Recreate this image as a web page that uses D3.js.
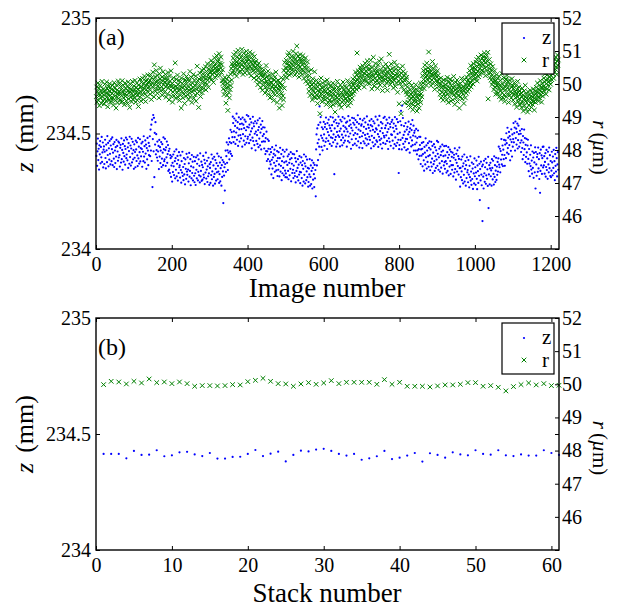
<!DOCTYPE html>
<html>
<head>
<meta charset="utf-8">
<script src="https://cdn.jsdelivr.net/npm/d3@7"></script>
<style>
  body { margin: 0; background: #fff; }
  svg text { font-family: "Liberation Serif", "Times New Roman", serif; fill: #000; }
</style>
</head>
<body>
<svg id="chart" width="624" height="608"></svg>
<script>
// z per image, stored as (z - 234 mm) * 1000
const zImage = [
403,456,360,423,478,385,434,344,449,410,467,371,442,397,485,377,418,461,353,430,
444,368,421,473,394,349,452,427,376,489,407,459,358,436,387,468,412,366,448,476,
380,432,483,363,417,454,391,355,463,426,372,441,400,472,346,446,422,382,465,396,
460,406,357,438,451,374,479,389,429,343,455,416,378,470,402,445,365,433,482,393,
409,474,384,440,351,458,424,369,486,398,448,361,435,477,375,413,464,388,428,347,
453,395,420,354,469,431,381,462,405,359,481,392,443,370,419,475,379,437,401,457,
433,356,464,421,380,488,400,445,374,470,413,452,347,437,388,481,426,363,459,406,
445,488,402,517,426,538,381,560,268,476,580,423,568,311,503,452,549,410,497,428,
396,465,382,422,446,346,472,400,441,372,426,463,355,391,454,417,363,483,432,380,
388,477,428,360,440,397,465,373,411,450,338,424,344,434,329,406,393,312,361,400,
292,373,333,409,358,320,422,380,306,393,343,431,314,369,403,296,385,329,419,354,
362,309,405,342,287,380,331,421,316,355,298,394,323,368,280,388,347,304,412,335,
321,397,344,292,371,416,313,338,389,276,358,306,407,329,378,297,353,399,317,289,
380,328,277,397,343,306,369,405,297,334,388,319,360,288,414,314,338,378,295,364,
300,354,403,322,309,386,281,371,331,417,305,344,382,290,358,315,395,327,278,367,
351,286,376,320,409,302,336,391,274,362,312,399,325,283,385,347,296,372,332,413,
302,360,335,401,286,324,374,293,350,396,274,363,312,385,336,199,376,318,354,253,
368,426,334,402,462,373,427,342,452,417,479,388,463,423,516,412,458,506,403,484,
573,545,463,509,565,484,533,455,556,504,586,473,524,549,446,491,570,518,465,541,
493,562,479,519,543,443,569,497,538,469,523,560,452,488,551,514,460,580,529,477,
486,575,526,458,538,495,563,471,509,548,436,522,482,572,467,544,531,450,499,553,
427,508,468,544,493,455,557,515,441,528,478,566,449,504,538,431,520,464,554,489,
527,466,497,435,526,465,411,480,424,508,381,423,475,389,434,468,348,409,379,433,
366,419,323,386,441,348,397,307,412,373,430,334,405,360,448,340,381,424,316,393,
343,419,366,314,393,438,335,360,411,298,380,328,429,351,400,319,375,421,339,311,
327,379,430,310,364,401,338,302,410,373,319,388,347,419,293,393,369,329,412,343,
307,361,410,329,316,393,288,378,338,424,312,351,389,297,365,322,402,334,285,374,
332,397,307,363,274,381,347,292,409,321,371,284,358,400,298,336,387,311,351,270,
290,348,323,389,274,312,362,281,338,384,262,351,300,373,324,268,364,306,342,228,
431,496,362,522,458,385,537,474,443,617,409,548,571,491,442,527,480,427,519,469,
550,496,447,528,541,464,569,479,519,433,545,506,468,560,492,535,455,523,572,483,
511,446,536,480,569,462,496,551,324,522,472,559,485,443,545,507,456,532,492,573,
543,485,510,444,559,521,471,552,495,449,571,482,533,460,509,565,469,527,491,547,
520,443,551,508,467,575,487,532,461,557,500,539,434,524,475,568,513,450,546,493,
566,538,456,502,558,477,526,448,549,497,579,466,517,542,439,484,563,511,458,534,
540,488,437,557,503,466,529,565,457,494,548,479,520,448,574,474,498,538,455,524,
486,555,472,512,536,436,562,490,531,462,516,553,445,481,544,507,453,573,522,470,
517,464,560,497,442,535,486,576,471,510,453,549,478,523,435,543,502,459,567,490,
483,572,523,455,535,492,560,468,506,545,433,519,479,569,464,541,528,447,496,550,
494,559,469,525,436,543,509,454,571,483,533,446,520,562,460,498,549,473,329,432,
450,504,553,472,598,536,431,621,481,567,455,494,532,440,508,465,545,477,428,517,
476,529,433,496,551,458,507,417,522,483,540,444,515,470,558,450,491,534,426,503,
512,453,487,426,520,461,410,480,427,513,388,432,486,403,450,485,368,431,404,459,
434,358,411,463,384,339,442,417,366,479,397,449,348,426,377,458,402,356,438,466,
406,341,431,375,464,357,391,446,329,417,367,454,380,338,440,402,351,427,387,468,
360,412,463,343,397,434,371,335,443,406,352,421,380,452,326,426,402,362,445,376,
347,405,380,446,331,369,419,338,395,441,319,408,357,430,381,325,421,363,399,343,
417,363,314,395,408,331,436,346,386,300,412,373,335,427,359,402,322,390,439,350,
270,351,311,387,336,298,400,358,284,371,321,409,292,347,381,274,363,307,397,332,
342,289,385,322,267,360,311,401,296,335,278,374,303,348,260,368,327,284,392,315,
354,278,331,383,304,259,362,337,286,399,317,369,212,346,297,378,322,276,358,121,
365,313,262,382,328,291,354,390,282,319,373,304,345,273,399,177,323,363,280,349,
373,315,340,274,389,351,301,382,325,279,401,312,363,290,339,395,299,357,321,377,
335,392,443,365,354,434,332,424,387,476,366,408,448,359,430,389,472,407,360,452,
470,393,501,458,417,525,437,482,411,507,450,489,384,474,425,518,463,400,496,443,
476,545,462,502,526,426,552,480,521,452,506,543,435,471,534,497,443,563,512,460,
499,420,470,519,437,389,489,461,407,517,432,480,376,451,399,477,418,369,448,473,
390,337,433,370,315,408,359,449,344,383,326,422,351,396,308,416,375,332,440,262,
420,366,317,398,411,334,439,349,389,303,415,243,338,430,362,405,325,393,442,353,
443,362,402,326,377,415,313,355,429,342,392,304,421,366,332,439,350,406,316,381,
311,339,421,375,319,400,351,429,328,380,298,411,360,335,438,393,314,366,419,343
];

// r per image, stored as (r - 40 µm) * 100
const rImage = [
962,991,945,978,1003,951,970,987,934,966,995,958,980,942,973,1008,961,949,984,967,
939,976,999,955,982,948,971,1006,960,987,931,969,993,952,978,1001,944,965,990,957,
983,947,972,996,958,936,979,1004,963,988,950,974,927,997,961,982,943,970,1009,956,
978,1001,952,969,992,944,983,965,1010,947,974,996,958,981,937,970,1003,962,986,949,
967,993,941,979,1006,955,972,988,929,976,999,960,984,946,971,1008,953,980,964,994,
958,982,1011,969,945,990,975,1002,951,984,966,932,997,973,960,1015,978,990,948,1005,
992,968,1017,981,953,1003,986,1024,970,995,947,1009,983,1012,962,998,1027,975,991,1006,
984,1011,969,1028,996,953,1019,1002,975,1036,990,1013,961,1058,999,1022,978,1007,1041,985,
1010,972,1026,994,1003,958,1031,987,1015,1048,979,1004,992,1021,966,1009,1037,983,998,1017,
975,1006,1029,991,960,1018,997,1012,970,1035,988,1002,952,1024,995,1009,981,1040,963,993,
1001,945,976,1019,990,964,1008,982,1064,957,993,1014,972,987,1027,961,998,979,1011,950,
984,1007,966,992,927,1018,977,1002,958,989,1031,969,995,941,1012,980,1005,963,1023,986,
968,994,1016,952,982,1009,973,1038,961,997,985,1020,944,976,1003,990,1029,957,981,1012,
995,967,1024,948,1001,983,1054,971,1010,989,929,1015,977,1033,996,962,1019,987,1042,974,
1008,1031,986,1019,1045,997,1026,1004,1052,982,1015,1038,999,1061,1011,1027,990,1046,1017,1035,
1022,1058,1036,1071,1013,1047,1029,1065,1041,1005,1054,1033,1079,1048,1019,1062,1040,1086,1027,1051,
1068,1039,1075,1044,1092,1057,1026,1063,1048,1081,1035,1059,1010,1043,1001,985,1012,968,996,1020,
978,1006,942,989,1015,966,1002,920,991,1023,974,958,1008,983,1030,995,1047,1012,1061,1034,
1053,1078,1040,1089,1062,1031,1071,1049,1096,1058,1024,1067,1083,1045,1102,1060,1036,1075,1052,1090,
1064,1038,1081,1057,1105,1044,1072,1029,1066,1093,1051,1078,1034,1061,1087,1047,1099,1069,1041,1076,
1048,1085,1059,1032,1074,1096,1053,1067,1025,1080,1046,1062,1091,1039,1071,1055,1018,1083,1050,1064,
1037,1069,1012,1048,1025,1056,998,1041,1019,1063,1006,1033,1052,990,1027,1044,1009,1035,981,1021,
1028,996,1043,1005,1017,973,1031,990,1056,1008,982,1022,1001,1039,969,1013,995,1027,958,1004,
983,1017,962,1004,991,1030,975,998,950,1012,986,1021,967,993,1036,979,1008,944,1000,985,
1011,968,994,927,982,1003,955,989,1019,971,935,998,964,1014,952,1041,987,1065,1023,1049,
1034,1072,1048,1019,1063,1087,1040,1056,1095,1028,1067,1045,1078,1052,1031,1084,1061,1043,1070,1099,
1055,1038,1081,1064,1027,1073,1049,1092,1060,1115,1036,1069,1085,1046,1058,1021,1077,1052,1089,1034,
1066,1043,1075,1029,1058,1086,1041,1063,1017,1072,1050,1035,1079,1008,1056,1024,1047,1067,1001,1038,
1012,978,1025,993,965,1006,984,1043,970,997,952,1016,981,1004,961,990,1037,973,999,958,
986,1011,967,993,941,980,1004,959,975,998,910,983,962,1018,971,989,946,1003,977,955,
991,964,982,1008,953,977,996,938,971,1012,958,985,944,969,1001,950,978,993,932,966,
975,948,992,961,1003,937,969,985,952,978,915,996,964,941,983,957,1008,970,946,989,
954,981,937,968,997,959,929,974,990,945,966,1006,951,983,962,938,977,994,956,971,
988,949,973,1010,961,934,982,966,999,952,976,943,990,968,1004,957,983,1015,971,995,
1002,978,1021,989,1036,1009,984,1028,1094,1011,997,1040,1019,988,1033,1006,1051,1024,999,1042,
1018,1037,1004,1055,1026,1012,1047,991,1031,1063,1015,1039,1008,1052,1027,1070,1003,1044,1021,1058,
1030,1001,1045,1019,1072,1008,1036,985,1027,1051,1013,1081,1024,994,1040,1017,1062,1005,1033,1048,
1011,1039,987,1025,1058,1004,1031,1069,1016,997,1043,1022,1076,1009,1035,980,1020,1053,1012,1038,
1026,995,1047,1014,1060,1029,1003,1037,981,1019,1051,1008,1032,1090,1015,1042,998,1024,1061,1010,
1034,1006,1048,1021,988,1039,1012,1066,1027,993,1045,1017,1003,1056,1030,975,1023,1041,1009,940,
1028,1002,1047,1015,910,1033,992,1019,1054,1006,1038,981,1025,1011,943,1032,997,1013,976,1020,
968,991,945,977,935,962,1004,951,983,929,970,958,996,940,973,922,961,987,948,979,
955,933,972,998,946,964,918,981,957,939,990,966,927,975,952,1003,944,970,985,961,
992,1025,1003,1041,1014,986,1032,1057,1009,1045,1021,997,1063,1028,1038,1011,1049,1097,1019,1035,
1006,1042,1024,995,1053,1031,1012,1068,1027,1001,1046,1019,1037,984,1029,1055,1010,1033,998,1021,
1040,1008,1026,993,1015,982,1003,969,997,1018,958,989,1007,975,994,951,984,1012,970,991,
963,998,977,1011,952,985,1020,969,993,944,980,1006,961,987,1015,973,948,996,982,1009,
975,952,989,1023,967,994,938,981,1005,959,986,970,1012,947,978,999,964,990,927,983,
1001,962,988,974,1017,955,983,1008,969,993,941,979,1014,986,958,997,972,1021,989,1006,
978,1012,995,1029,984,1041,1003,1019,1056,991,1033,1011,1047,1025,1000,1062,1037,1014,1050,1028,
1045,1018,1066,1032,1074,1009,1053,1039,1081,1022,1060,1046,1029,1071,1055,1088,1034,1063,1042,1077,
1058,1083,1036,1070,1094,1048,1065,1025,1079,1052,1087,1041,1068,1096,955,1057,1031,1074,1046,1019,
1035,1061,1012,1043,998,1027,1053,1006,1022,983,1014,1040,991,1008,969,1002,1028,977,995,1017,
971,1004,988,1023,962,996,979,1011,953,990,1032,974,1000,958,985,1019,967,993,947,1008,
982,1015,961,997,1026,970,989,1006,944,983,1012,966,1001,975,1037,958,990,1016,973,995,
951,986,969,1004,940,977,959,995,972,930,983,962,1008,946,974,991,955,980,937,968,
942,973,928,960,987,945,966,918,954,979,934,961,996,948,925,970,943,958,915,977,
952,936,968,923,957,981,941,963,929,950,974,938,960,985,947,966,921,956,978,944,
969,990,954,977,1003,961,984,948,972,996,958,981,1010,966,989,945,976,1001,963,987,
993,1018,979,1006,1031,988,1012,969,1001,1027,985,1015,996,1040,1007,982,1023,1011,1046,999,
1026,1052,1013,1039,1065,1030,1048,1017,1058,1075,1036,1062,1044,1081,1051,1029,1070,1088,1057,1073
];

// z per stack (mm), stacks 1..61
const zStack = [
234.414,234.414,234.414,234.395,234.427,234.410,234.411,234.430,234.404,234.408,
234.421,234.423,234.412,234.405,234.418,234.394,234.394,234.401,234.402,234.414,
234.431,234.405,234.415,234.424,234.382,234.410,234.428,234.425,234.433,234.436,
234.427,234.414,234.407,234.414,234.389,234.395,234.404,234.427,234.392,234.398,
234.407,234.418,234.381,234.417,234.410,234.398,234.421,234.412,234.408,234.430,
234.414,234.411,234.430,234.408,234.405,234.412,234.407,234.407,234.430,234.418,
234.410
];

// r per stack (µm)
const rStack = [
49.99,50.09,50.07,50.01,50.09,50.04,50.16,50.05,50.07,50.02,
50.07,50.02,49.94,49.96,49.96,49.95,49.96,49.99,49.98,50.08,
50.12,50.18,50.09,50.02,50.01,49.94,50.01,50.05,50.00,50.04,
50.11,50.02,50.06,50.06,50.06,50.06,50.00,50.14,50.00,50.06,
49.94,49.94,49.94,49.92,49.95,49.98,49.98,50.00,50.05,50.05,
49.94,49.96,49.91,49.80,49.93,49.99,50.04,49.98,50.02,49.96,
49.97
];

const imageTicks = [0, 200, 400, 600, 800, 1000, 1200];
const stackTicks = [0, 10, 20, 30, 40, 50, 60];
const zTicks = [234, 234.5, 235];
const rTicks = [46, 47, 48, 49, 50, 51, 52];

const svg = d3.select('#chart');
const left = 96, right = 559;
const blue = '#0000ff', green = '#008000';
const intFmt = d3.format('d');

const panels = [
  { top: 18, bottom: 249, xMax: 1222, xTicks: imageTicks, tag: '(a)', tagY: 45, xLabel: 'Image number', xLabelY: 297,
    z: zImage.map(v => 234 + v / 1000), r: rImage.map(v => 40 + v / 100) },
  { top: 318, bottom: 550, xMax: 61, xTicks: stackTicks, tag: '(b)', tagY: 355, xLabel: 'Stack number', xLabelY: 602,
    z: zStack, r: rStack }
];

function drawPanel(p) {
  const g = svg.append('g');
  const x  = d3.scaleLinear().domain([0, p.xMax]).range([left, right]);
  const yz = d3.scaleLinear().domain([234, 235]).range([p.bottom, p.top]);
  const yr = d3.scaleLinear().domain([45, 52]).range([p.bottom, p.top]);

  // z dots
  g.append('g').selectAll('circle')
    .data(p.z)
    .join('circle')
    .attr('cx', (d, i) => x(i + 1))
    .attr('cy', d => yz(d))
    .attr('r', 1.1)
    .attr('fill', blue);

  // r crosses
  const s = 2.3;
  g.append('path')
    .attr('d', p.r.map((d, i) => {
      const cx = x(i + 1), cy = yr(d);
      return `M${cx - s},${cy - s}L${cx + s},${cy + s}M${cx - s},${cy + s}L${cx + s},${cy - s}`;
    }).join(''))
    .attr('fill', 'none')
    .attr('stroke', green)
    .attr('stroke-width', 1);

  // axes, ticks pointing inwards
  const tk = -4;
  const bottomAx = g.append('g').attr('transform', `translate(0,${p.bottom})`)
    .call(d3.axisBottom(x).tickValues(p.xTicks).tickSizeInner(tk).tickSizeOuter(0).tickPadding(8).tickFormat(intFmt));
  const topAx = g.append('g').attr('transform', `translate(0,${p.top})`)
    .call(d3.axisTop(x).tickValues(p.xTicks).tickSizeInner(tk).tickSizeOuter(0).tickFormat(''));
  const leftAx = g.append('g').attr('transform', `translate(${left},0)`)
    .call(d3.axisLeft(yz).tickValues(zTicks).tickSizeInner(tk).tickSizeOuter(0).tickPadding(5).tickFormat(d => d));
  const leftOnRight = g.append('g').attr('transform', `translate(${right},0)`)
    .call(d3.axisRight(yz).tickValues(zTicks).tickSizeInner(tk).tickSizeOuter(0).tickFormat(''));
  const rightAx = g.append('g').attr('transform', `translate(${right},0)`)
    .call(d3.axisRight(yr).tickValues(rTicks).tickSizeInner(tk).tickSizeOuter(0).tickPadding(3).tickFormat(intFmt));

  [bottomAx, topAx, leftAx, leftOnRight, rightAx].forEach(a => {
    a.select('.domain').remove();
    a.selectAll('.tick line').attr('stroke', '#000').attr('stroke-width', 1);
    a.selectAll('.tick text').attr('font-size', 20).attr('font-family', '"Liberation Serif", serif').attr('fill', '#000');
  });

  // frame
  g.append('rect')
    .attr('x', left).attr('y', p.top)
    .attr('width', right - left).attr('height', p.bottom - p.top)
    .attr('fill', 'none').attr('stroke', '#000').attr('stroke-width', 1.4);

  // panel tag
  g.append('text').attr('x', 98).attr('y', p.tagY).attr('font-size', 24).text(p.tag);

  // x label
  g.append('text').attr('x', 327).attr('y', p.xLabelY)
    .attr('text-anchor', 'middle').attr('font-size', 27).text(p.xLabel);

  // left y label
  const mid = (p.top + p.bottom) / 2;
  const zl = g.append('text')
    .attr('transform', `translate(33,${mid}) rotate(-90)`)
    .attr('text-anchor', 'middle').attr('font-size', 26);
  zl.append('tspan').attr('font-style', 'italic').text('z');
  zl.append('tspan').attr('dx', 10).text('(mm)');

  // right y label
  const rl = g.append('text')
    .attr('transform', `translate(593,${mid + 14}) rotate(90)`)
    .attr('text-anchor', 'middle').attr('font-size', 21);
  rl.append('tspan').attr('font-style', 'italic').text('r');
  rl.append('tspan').attr('dx', 4).text('(');
  rl.append('tspan').attr('font-style', 'italic').text('µ');
  rl.append('tspan').text('m)');

  // legend
  const lg = g.append('g').attr('transform', `translate(502,${p.top + 5})`);
  lg.append('rect').attr('width', 52).attr('height', 51)
    .attr('fill', '#fff').attr('stroke', '#000').attr('stroke-width', 1.2);
  lg.append('circle').attr('cx', 22).attr('cy', 15).attr('r', 1.1).attr('fill', blue);
  lg.append('text').attr('x', 40).attr('y', 21).attr('font-size', 21).text('z');
  lg.append('path')
    .attr('d', `M${22 - s},${37 - s}L${22 + s},${37 + s}M${22 - s},${37 + s}L${22 + s},${37 - s}`)
    .attr('stroke', green).attr('stroke-width', 1);
  lg.append('text').attr('x', 40).attr('y', 44).attr('font-size', 21).text('r');
}

panels.forEach(drawPanel);
</script>
</body>
</html>
